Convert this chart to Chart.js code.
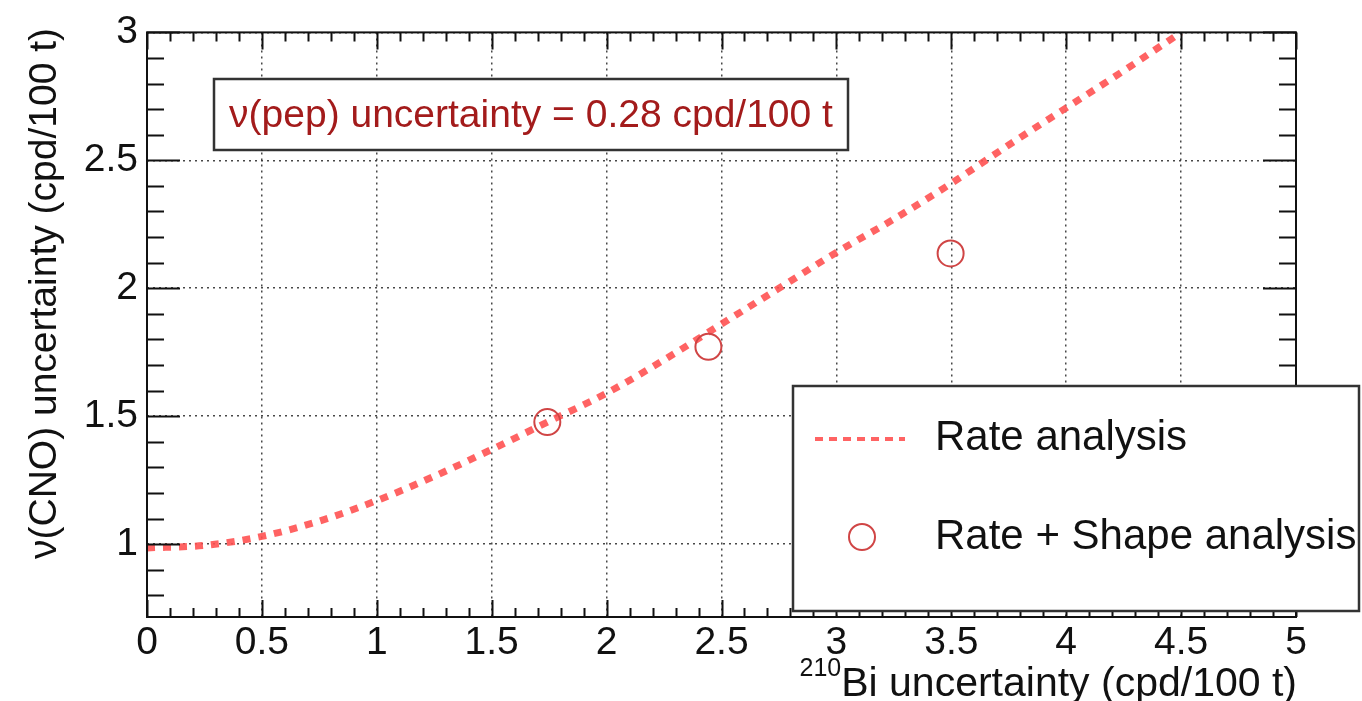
<!DOCTYPE html>
<html lang="en">
<head>
  <meta charset="UTF-8">
  <title>CNO uncertainty vs 210Bi uncertainty</title>
  <script src="https://cdn.jsdelivr.net/npm/chart.js"></script>
  <style>
    html, body { margin: 0; padding: 0; background: #fff; }
    #wrap { width: 1362px; height: 701px; }
  </style>
</head>
<body>
  <div id="wrap">
    <canvas id="myChart" width="1362" height="701"></canvas>
  </div>

  <script>
    // curve: Rate analysis
    var rateX = [0, 0.25, 0.5, 0.75, 1, 1.25, 1.5, 1.75, 2, 2.25, 2.5, 2.75, 3, 3.25, 3.5, 3.75, 4, 4.25, 4.5];
    var rateY = [0.985, 0.995, 1.03, 1.09, 1.17, 1.265, 1.37, 1.48, 1.59, 1.72, 1.86, 2.0, 2.14, 2.27, 2.41, 2.56, 2.705, 2.85, 3.0];

    // open circles: Rate + Shape analysis
    var shapeX = [1.742, 2.443, 3.497];
    var shapeY = [1.477, 1.771, 2.136];

    var xTickLabels = [0, 0.5, 1, 1.5, 2, 2.5, 3, 3.5, 4, 4.5, 5];
    var yTickLabels = [1, 1.5, 2, 2.5, 3];

    var FONT = '"Liberation Sans", Arial, Helvetica, sans-serif';
    var lineRed = 'rgba(255, 82, 82, 0.9)';
    var circleRed = '#d04545';

    function toPoints(xs, ys) {
      return xs.map((x, i) => ({ x: x, y: ys[i] }));
    }

    // frame, ticks on all four sides, text box, legend, axis titles
    var decorations = {
      id: 'decorations',
      beforeDatasetsDraw(chart) {
        var ctx = chart.ctx;
        // text box (covers the grid)
        ctx.save();
        ctx.fillStyle = '#fff';
        ctx.fillRect(214, 79, 634, 71);
        ctx.restore();
      },
      afterDraw(chart) {
        var ctx = chart.ctx;
        var a = chart.chartArea;
        var xs = chart.scales.x, ys = chart.scales.y;

        ctx.save();
        ctx.strokeStyle = '#111';
        ctx.lineWidth = 2;

        // ticks
        ctx.beginPath();
        for (var i = 0; i <= 50; i++) {
          var v = i / 10;
          var px = Math.round(xs.getPixelForValue(v)) + 0.5;
          var len = (i % 5 === 0) ? 17 : 9;
          ctx.moveTo(px, a.bottom); ctx.lineTo(px, a.bottom - len);
          ctx.moveTo(px, a.top); ctx.lineTo(px, a.top + len);
        }
        for (var j = 8; j <= 30; j++) {
          var w = j / 10;
          var py = Math.round(ys.getPixelForValue(w)) + 0.5;
          var l2 = (j % 5 === 0) ? 33 : 17;
          ctx.moveTo(a.left, py); ctx.lineTo(a.left + l2, py);
          ctx.moveTo(a.right, py); ctx.lineTo(a.right - l2, py);
        }
        ctx.stroke();

        // frame
        ctx.strokeRect(a.left, a.top, a.right - a.left, a.bottom - a.top);

        // text box
        ctx.strokeStyle = '#333';
        ctx.lineWidth = 2.5;
        ctx.strokeRect(214, 79, 634, 71);
        ctx.fillStyle = '#a31b1b';
        ctx.font = '39px ' + FONT;
        ctx.textAlign = 'center';
        ctx.textBaseline = 'middle';
        ctx.fillText('\u03bd(pep) uncertainty = 0.28 cpd/100 t', 531, 116);

        // legend
        ctx.fillStyle = '#fff';
        ctx.fillRect(793, 386, 566, 225);
        ctx.strokeStyle = '#333';
        ctx.lineWidth = 2.5;
        ctx.strokeRect(793, 386, 566, 225);

        ctx.strokeStyle = lineRed;
        ctx.lineWidth = 4;
        ctx.setLineDash([8, 6]);
        ctx.beginPath();
        ctx.moveTo(815, 439); ctx.lineTo(905, 439);
        ctx.stroke();
        ctx.setLineDash([]);

        ctx.strokeStyle = circleRed;
        ctx.lineWidth = 2;
        ctx.beginPath();
        ctx.arc(862, 537, 13, 0, Math.PI * 2);
        ctx.stroke();

        ctx.fillStyle = '#111';
        ctx.font = '42px ' + FONT;
        ctx.textAlign = 'left';
        ctx.textBaseline = 'middle';
        ctx.fillText('Rate analysis', 935, 438);
        ctx.fillText('Rate + Shape analysis', 935, 537);

        // y title
        ctx.save();
        ctx.translate(45, 28);
        ctx.rotate(-Math.PI / 2);
        ctx.textAlign = 'right';
        ctx.textBaseline = 'middle';
        ctx.font = '39px ' + FONT;
        ctx.fillText('\u03bd(CNO) uncertainty (cpd/100 t)', 0, 0);
        ctx.restore();

        // x title with superscript
        ctx.font = '41px ' + FONT;
        ctx.textAlign = 'right';
        ctx.textBaseline = 'alphabetic';
        var main = 'Bi uncertainty (cpd/100 t)';
        ctx.fillText(main, 1297, 696);
        var mw = ctx.measureText(main).width;
        ctx.font = '25px ' + FONT;
        ctx.fillText('210', 1297 - mw, 676);

        ctx.restore();
      }
    };

    var ctx = document.getElementById('myChart').getContext('2d');
    var myChart = new Chart(ctx, {
      type: 'line',
      data: {
        datasets: [{
          label: 'Rate analysis',
          data: toPoints(rateX, rateY),
          borderColor: lineRed,
          borderWidth: 7,
          borderDash: [8, 8],
          borderCapStyle: 'butt',
          pointRadius: 0,
          cubicInterpolationMode: 'monotone',
          fill: false,
          order: 2
        }, {
          label: 'Rate + Shape analysis',
          data: toPoints(shapeX, shapeY),
          showLine: false,
          pointStyle: 'circle',
          pointRadius: 13,
          pointBorderWidth: 2,
          pointBorderColor: circleRed,
          pointBackgroundColor: 'rgba(0,0,0,0)',
          order: 1
        }]
      },
      options: {
        responsive: false,
        animation: false,
        events: [],
        layout: { padding: { top: 28, right: 66, left: 0, bottom: 0 } },
        plugins: { legend: { display: false }, tooltip: { enabled: false } },
        scales: {
          x: {
            type: 'linear',
            min: 0,
            max: 5,
            afterFit: s => { s.height = 84; },
            afterBuildTicks: s => { s.ticks = xTickLabels.map(v => ({ value: v })); },
            grid: { color: 'rgba(40,40,40,0.85)', lineWidth: 1.5, drawTicks: false },
            border: { display: false, dash: [2, 4] },
            ticks: {
              padding: 3,
              color: '#111',
              font: { family: FONT, size: 39 },
              maxRotation: 0,
              autoSkip: false,
              callback: v => String(v)
            }
          },
          y: {
            type: 'linear',
            min: 0.715,
            max: 3,
            afterFit: s => { s.width = 147; },
            afterBuildTicks: s => { s.ticks = yTickLabels.map(v => ({ value: v })); },
            grid: { color: 'rgba(40,40,40,0.85)', lineWidth: 1.5, drawTicks: false },
            border: { display: false, dash: [2, 4] },
            ticks: {
              padding: 9,
              color: '#111',
              font: { family: FONT, size: 39 },
              autoSkip: false,
              callback: v => String(v)
            }
          }
        }
      },
      plugins: [decorations]
    });
  </script>
</body>
</html>
